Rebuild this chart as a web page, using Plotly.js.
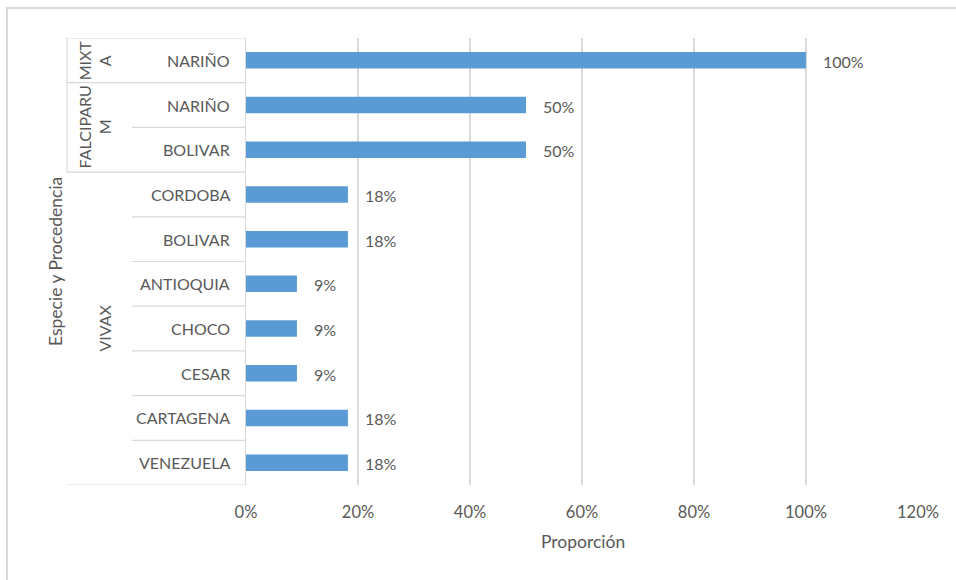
<!DOCTYPE html>
<html>
<head>
<meta charset="utf-8">
<script src="https://cdn.plot.ly/plotly-3.0.1.min.js"></script>
<style>html,body{margin:0;padding:0;background:#fff;}#chart{width:956px;height:580px;}</style>
</head>
<body>
<div id="chart"></div>
<script>
// ---- Data ----
const especie = ['MIXTA','FALCIPARUM','FALCIPARUM','VIVAX','VIVAX','VIVAX','VIVAX','VIVAX','VIVAX','VIVAX'];
const grupoEtiquetas = {MIXTA: 'MIXT<br>A', FALCIPARUM: 'FALCIPARU<br>M', VIVAX: 'VIVAX'};
const procedencia = ['NARIÑO','NARIÑO','BOLIVAR','CORDOBA','BOLIVAR','ANTIOQUIA','CHOCO','CESAR','CARTAGENA','VENEZUELA'];
const proporcion = [1.00, 0.50, 0.50, 0.182, 0.182, 0.091, 0.091, 0.091, 0.182, 0.182];
const xTickVals = [0, 0.2, 0.4, 0.6, 0.8, 1.0, 1.2];
const xTickText = ['0%','20%','40%','60%','80%','100%','120%'];

// ---- Layout helpers ----
const W = 956, H = 580;
const M = {l: 246, r: 38, t: 38, b: 95};
const PW = W - M.l - M.r, PH = H - M.t - M.b;
const px = x => (x - M.l) / PW;           // pixel x -> paper x
const py = y => (H - M.b - y) / PH;       // pixel y -> paper y
const FONT = 'Lato, "Open Sans", "Liberation Sans", sans-serif';
const GREY = '#595959';
const LINE = '#d9d9d9';
const idx = procedencia.map((_, i) => i);

const annotations = [];
const shapes = [];

// category (procedencia) labels
procedencia.forEach((p, i) => {
  annotations.push({xref: 'paper', yref: 'y', x: px(232), y: i, xanchor: 'right', yanchor: 'middle',
    text: p, showarrow: false, font: {family: FONT, size: 16, color: GREY}});
});

// data labels
proporcion.forEach((v, i) => {
  annotations.push({xref: 'x', yref: 'y', x: v, y: i, xanchor: 'left', yanchor: 'middle', xshift: 15, yshift: -1,
    text: Math.round(v * 100) + '%', showarrow: false, font: {family: FONT, size: 16, color: GREY}});
});

// group labels + separators
let start = 0;
for (let i = 1; i <= especie.length; i++) {
  if (i === especie.length || especie[i] !== especie[start]) {
    const g = especie[start];
    const twoLines = grupoEtiquetas[g].includes('<br>');
    annotations.push({xref: 'paper', yref: 'y', x: px(twoLines ? 95 : 105), y: (start + i - 1) / 2,
      xanchor: 'center', yanchor: 'middle', textangle: -90, text: grupoEtiquetas[g], showarrow: false,
      font: {family: FONT, size: 16, color: GREY}});
    start = i;
  }
}
// horizontal separators
for (let b = 0; b <= especie.length; b++) {
  const long = (b === 0 || b === especie.length || especie[b] !== especie[b - 1]);
  shapes.push({type: 'line', xref: 'paper', yref: 'y', x0: px(long ? 67 : 132), x1: 0, y0: b - 0.5, y1: b - 0.5,
    line: {color: LINE, width: 1.2}});
}
// left vertical line for MIXTA/FALCIPARUM groups
const lastNonVivax = especie.lastIndexOf('FALCIPARUM');
shapes.push({type: 'line', xref: 'paper', yref: 'y', x0: px(67), x1: px(67), y0: -0.5, y1: lastNonVivax + 0.5,
  line: {color: LINE, width: 1.2}});
// outer chart border
shapes.push({type: 'rect', xref: 'paper', yref: 'paper', x0: px(7), x1: px(1000), y0: py(620), y1: py(8),
  line: {color: '#d9d9d9', width: 2}, layer: 'below'});

// axis titles
annotations.push({xref: 'paper', yref: 'paper', x: px(583), y: py(541), xanchor: 'center', yanchor: 'middle',
  text: 'Proporción', showarrow: false, font: {family: FONT, size: 17.5, color: GREY}});
annotations.push({xref: 'paper', yref: 'paper', x: px(55), y: py(262), xanchor: 'center', yanchor: 'middle',
  textangle: -90, text: 'Especie y Procedencia', showarrow: false, font: {family: FONT, size: 17.5, color: GREY}});

const trace = {
  type: 'bar', orientation: 'h', x: proporcion, y: idx,
  width: 0.37, marker: {color: '#5b9bd5'}, hoverinfo: 'skip'
};

const layout = {
  width: W, height: H,
  margin: M,
  paper_bgcolor: '#fff', plot_bgcolor: '#fff',
  showlegend: false,
  font: {family: FONT, size: 16, color: GREY},
  xaxis: {range: [0, 1.2], tickvals: xTickVals, ticktext: xTickText, showgrid: true, gridcolor: LINE, gridwidth: 1.2,
    zeroline: false, showline: false, ticks: 'outside', ticklen: 12, tickcolor: 'rgba(0,0,0,0)',
    tickfont: {family: FONT, size: 16.5, color: GREY}, fixedrange: true},
  yaxis: {range: [9.5, -0.5], showticklabels: false, showgrid: false, zeroline: false,
    showline: true, linecolor: LINE, linewidth: 1.2, ticks: '', fixedrange: true},
  annotations: annotations,
  shapes: shapes
};

Plotly.newPlot('chart', [trace], layout, {displayModeBar: false, staticPlot: true});
</script>
</body>
</html>
